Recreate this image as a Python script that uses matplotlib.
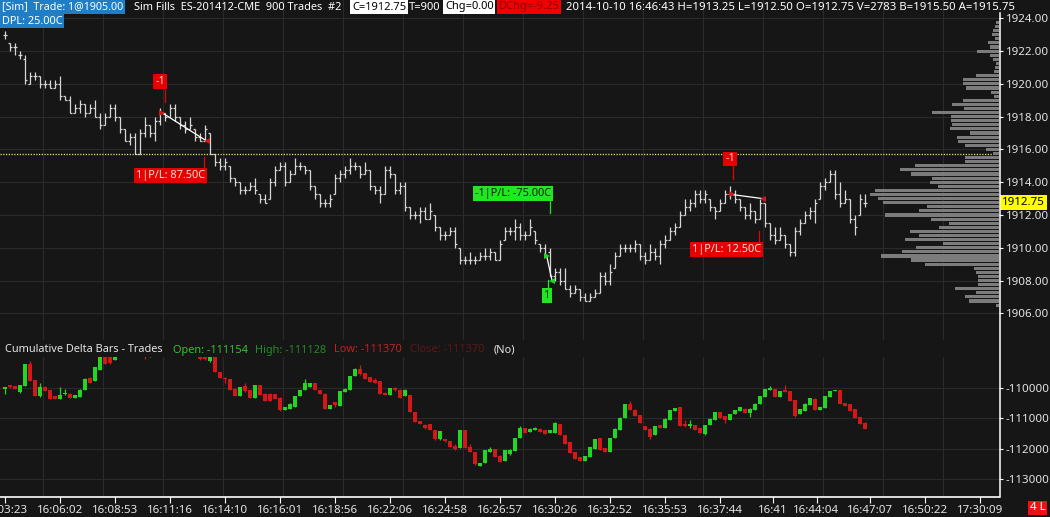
import numpy as np
import matplotlib
matplotlib.use("Agg")
import matplotlib.pyplot as plt
from matplotlib.lines import Line2D

# ---------------- DATA ----------------
price_open = [
 1923.0,1922.5,1922.25,1921.75,1921.5,1920.0,1920.5,1920.5,1920.0,1920.0,
 1919.75,1920.0,1919.25,1919.0,1918.25,1918.5,1918.75,1918.25,1918.5,1918.0,
 1917.5,1918.0,1918.5,1918.0,1917.25,1916.5,1916.75,1915.75,1917.0,1917.5,
 1917.0,1917.75,1918.25,1918.0,1918.5,1918.0,1917.5,1917.25,1917.25,1916.75,
 1916.5,1917.0,1915.75,1915.25,1915.0,1915.0,1914.25,1914.0,1913.5,1913.5,
 1913.75,1913.25,1913.0,1913.0,1914.0,1914.75,1915.0,1914.0,1914.5,1915.0,
 1915.0,1914.75,1913.75,1913.25,1912.75,1912.75,1913.25,1914.25,1914.5,1914.75,
 1915.0,1915.0,1914.5,1914.75,1913.75,1913.5,1913.25,1914.75,1914.5,1913.5,
 1913.75,1912.5,1912.0,1912.0,1912.25,1911.75,1912.0,1911.25,1910.75,1910.75,
 1911.0,1910.0,1909.25,1909.25,1909.25,1909.25,1909.5,1909.5,1909.75,1909.25,
 1910.5,1911.0,1911.0,1911.25,1910.75,1910.75,1911.0,1910.25,1910.0,1909.75,
 1908.25,1908.5,1908.0,1907.5,1907.25,1907.5,1907.0,1906.75,1907.0,1907.25,
 1908.25,1908.0,1908.75,1909.5,1910.0,1910.0,1910.0,1910.25,1909.5,1909.25,
 1909.75,1909.5,1910.25,1910.5,1911.0,1911.25,1912.0,1912.5,1912.75,1913.25,
 1913.0,1913.0,1912.5,1912.25,1912.75,1913.25,1913.25,1913.0,1912.5,1912.0,
 1912.25,1911.75,1912.75,1911.5,1910.75,1910.5,1910.75,1910.25,1909.75,1911.0,
 1911.5,1912.0,1912.25,1913.0,1913.75,1914.0,1914.5,1913.25,1912.75,1913.0,
 1911.75,1912.0,1912.75]
price_high = [
 1923.25,1922.5,1922.5,1922.0,1921.75,1920.75,1920.75,1920.5,1920.25,1920.25,
 1920.25,1920.5,1919.25,1919.25,1918.75,1919.0,1918.75,1918.75,1919.0,1918.25,
 1918.25,1918.75,1918.75,1918.0,1917.25,1917.0,1917.0,1917.25,1918.0,1917.5,
 1918.0,1918.5,1918.25,1918.75,1918.75,1918.0,1917.75,1918.0,1917.25,1917.0,
 1917.5,1917.0,1915.75,1915.5,1915.5,1915.0,1914.25,1914.0,1913.75,1914.0,
 1914.25,1913.25,1913.25,1914.25,1915.0,1915.25,1915.25,1914.75,1915.5,1915.25,
 1915.0,1914.75,1913.75,1913.25,1913.0,1913.25,1914.5,1914.75,1915.0,1915.5,
 1915.25,1915.0,1915.25,1914.75,1913.75,1913.75,1915.0,1915.0,1914.5,1914.0,
 1914.0,1912.5,1912.25,1912.5,1912.5,1912.75,1912.0,1911.25,1911.0,1911.25,
 1911.25,1910.0,1909.5,1909.75,1909.5,1909.75,1910.0,1910.0,1909.75,1910.5,
 1911.25,1911.25,1911.75,1911.5,1911.0,1911.75,1911.0,1910.25,1910.25,1910.0,
 1908.75,1908.75,1908.75,1907.75,1907.75,1907.5,1907.25,1907.25,1907.5,1908.5,
 1908.5,1909.0,1909.75,1910.25,1910.25,1910.25,1910.5,1910.25,1909.75,1910.25,
 1910.0,1910.5,1910.75,1911.25,1911.5,1912.25,1913.0,1913.0,1913.5,1913.5,
 1913.5,1913.0,1912.5,1913.0,1913.5,1913.75,1913.5,1913.0,1912.5,1912.75,
 1912.25,1913.0,1912.75,1911.5,1911.25,1911.25,1910.75,1910.25,1911.25,1911.75,
 1912.25,1912.5,1913.0,1914.0,1914.25,1914.75,1914.75,1914.0,1913.5,1913.0,
 1912.0,1913.25,1913.25]
price_low = [
 1922.75,1922.0,1921.75,1921.5,1920.0,1920.0,1920.25,1919.75,1919.75,1919.75,
 1919.75,1919.0,1919.0,1918.25,1918.25,1918.25,1918.0,1918.25,1918.0,1917.25,
 1917.5,1918.0,1917.75,1917.0,1916.5,1916.25,1915.75,1915.75,1916.75,1916.75,
 1916.5,1917.5,1917.75,1918.0,1917.75,1917.25,1917.0,1917.25,1916.5,1916.5,
 1916.5,1915.75,1915.0,1914.75,1914.75,1914.0,1913.75,1913.25,1913.25,1913.5,
 1913.25,1912.75,1912.75,1913.0,1913.75,1914.75,1913.75,1914.0,1914.5,1914.75,
 1914.5,1913.5,1913.0,1912.5,1912.5,1912.5,1913.25,1914.0,1914.25,1914.5,
 1914.75,1914.25,1914.5,1913.5,1913.25,1912.75,1913.25,1914.25,1913.25,1913.25,
 1912.25,1911.75,1911.75,1911.5,1911.75,1911.75,1911.0,1910.5,1910.5,1910.75,
 1910.0,1909.0,1909.0,1909.0,1909.0,1909.25,1909.25,1909.25,1909.25,1909.25,
 1910.5,1910.75,1910.5,1910.5,1910.5,1910.75,1910.25,1909.75,1909.5,1908.25,
 1908.0,1907.75,1907.5,1907.0,1907.25,1906.75,1906.75,1906.75,1907.0,1907.25,
 1907.75,1907.75,1908.75,1909.5,1909.75,1909.75,1909.75,1909.25,1909.0,1909.25,
 1909.25,1909.0,1910.0,1910.5,1910.75,1911.25,1912.0,1912.25,1912.5,1912.75,
 1912.75,1912.25,1911.75,1912.25,1912.75,1913.0,1912.75,1912.25,1911.75,1911.75,
 1911.5,1911.75,1911.25,1910.5,1910.25,1910.5,1910.0,1909.5,1909.5,1910.75,
 1911.5,1911.75,1911.5,1913.0,1913.5,1914.0,1913.0,1912.5,1912.75,1911.5,
 1910.75,1912.0,1912.5]
price_close = [
 1923.0,1922.25,1922.25,1921.75,1920.25,1920.5,1920.5,1920.0,1920.0,1919.75,
 1920.0,1919.25,1919.0,1918.25,1918.5,1918.75,1918.25,1918.5,1918.0,1917.5,
 1918.0,1918.5,1918.0,1917.25,1916.5,1916.75,1915.75,1917.0,1917.5,1917.0,
 1917.75,1918.25,1918.0,1918.5,1918.0,1917.5,1917.25,1917.5,1916.75,1916.5,
 1917.25,1915.75,1915.25,1915.0,1915.25,1914.25,1914.0,1913.5,1913.5,1913.75,
 1913.5,1913.0,1912.75,1914.0,1914.75,1915.0,1914.0,1914.5,1915.0,1915.0,
 1914.75,1913.75,1913.25,1912.75,1912.75,1913.0,1914.25,1914.5,1914.75,1915.0,
 1915.0,1914.5,1914.75,1913.75,1913.5,1913.25,1914.75,1914.5,1913.5,1913.75,
 1912.5,1912.0,1912.0,1912.25,1911.75,1912.25,1911.25,1910.75,1910.75,1911.0,
 1910.25,1909.25,1909.25,1909.25,1909.25,1909.5,1909.5,1909.75,1909.25,1910.25,
 1911.0,1911.0,1911.25,1910.75,1910.75,1911.25,1910.5,1910.0,1909.5,1908.25,
 1908.5,1908.0,1907.5,1907.25,1907.5,1907.0,1906.75,1907.0,1907.25,1908.25,
 1908.0,1908.5,1909.5,1910.0,1910.0,1910.0,1910.25,1909.5,1909.25,1909.75,
 1909.5,1910.25,1910.5,1911.0,1911.25,1912.0,1912.5,1912.75,1913.25,1913.0,
 1913.25,1912.5,1912.25,1912.75,1913.25,1913.25,1913.0,1912.5,1912.0,1912.25,
 1911.75,1912.75,1911.5,1910.75,1910.5,1910.75,1910.25,1909.75,1911.0,1911.5,
 1912.0,1912.25,1912.75,1913.75,1914.0,1914.5,1913.25,1912.75,1913.0,1911.75,
 1911.25,1913.0,1912.75]

delta_open = [
 -110050,-109920,-109950,-110140,-109930,-109225,-109750,-110270,-109975,-110080,
 -110285,-110360,-110215,-110195,-110325,-110305,-110060,-109675,-109775,-109420,
 -108900,-108950,-109090,-108960,-108750,-108600,-108650,-108450,-108550,-108950,
 -108750,-108550,-108600,-108500,-108550,-108750,-108650,-108700,-108850,-108950,
 -109000,-109130,-108950,-109475,-109675,-109730,-110030,-110270,-109950,-110080,
 -110335,-109915,-110195,-110195,-110215,-110325,-110720,-110690,-110635,-110280,
 -110060,-109975,-109840,-110080,-110195,-110690,-110470,-110600,-110140,-110080,
 -109620,-109370,-109530,-109640,-109750,-109775,-110160,-110250,-110025,-110060,
 -110280,-110250,-110800,-111095,-111240,-111185,-111380,-111700,-111700,-111765,
 -111930,-111975,-111380,-111955,-112120,-112560,-112480,-112120,-112010,-112230,
 -112395,-112195,-112085,-111645,-111325,-111455,-111380,-111345,-111400,-111490,
 -111490,-111200,-111565,-111785,-112120,-112285,-112415,-112285,-112010,-111645,
 -111975,-112120,-111645,-111380,-110985,-110520,-110720,-110905,-111270,-111345,
 -111565,-111235,-111315,-111050,-110760,-110650,-111225,-111250,-111235,-111315,
 -111535,-111235,-111050,-110795,-110940,-111070,-110870,-110760,-110685,-110830,
 -110740,-110540,-110300,-110080,-110045,-110300,-110080,-110110,-110410,-110870,
 -110760,-110575,-110385,-110740,-110660,-110300,-110110,-110078,-110495,-110550,
 -110715,-110960,-111154]
delta_high = [
 -109970,-109900,-109940,-109910,-109220,-109115,-109740,-109860,-109960,-110070,
 -110280,-109975,-110030,-110190,-110245,-110050,-109690,-109660,-109330,-108950,
 -108850,-108900,-108900,-108700,-108550,-108450,-108400,-108350,-108500,-108700,
 -108500,-108420,-108450,-108380,-108500,-108600,-108550,-108650,-108750,-108930,
 -108980,-108950,-108900,-109470,-109640,-109725,-110020,-109965,-109860,-110075,
 -109910,-109905,-110190,-110185,-110200,-110315,-110630,-110515,-110275,-110075,
 -109730,-109835,-109830,-110075,-110190,-110575,-110465,-110100,-110025,-109615,
 -109365,-109257,-109525,-109635,-109695,-109770,-110155,-110000,-109990,-110055,
 -110030,-110245,-110795,-111090,-111185,-111180,-111375,-111420,-111695,-111760,
 -111845,-111375,-111375,-111845,-112115,-112465,-112060,-111955,-112005,-112220,
 -112060,-112000,-111640,-111250,-111320,-111340,-111300,-111320,-111395,-111395,
 -111125,-111195,-111560,-111780,-112115,-112280,-112255,-111950,-111675,-111640,
 -111970,-111640,-111340,-110980,-110535,-110440,-110715,-110900,-111265,-111340,
 -111265,-111230,-111010,-110735,-110670,-110620,-111070,-111070,-111230,-111310,
 -111230,-111010,-110790,-110790,-110935,-110865,-110735,-110625,-110680,-110680,
 -110515,-110260,-110050,-109945,-110040,-110095,-109910,-110105,-110405,-110700,
 -110515,-110350,-110335,-110625,-110260,-110095,-110073,-110073,-110490,-110545,
 -110710,-110955,-111128]
delta_low = [
 -110195,-110000,-110040,-110170,-109940,-109780,-110280,-110300,-110110,-110370,
 -110365,-110365,-110250,-110330,-110330,-110310,-110065,-109845,-109780,-109425,
 -109230,-109210,-109100,-108970,-108780,-108700,-108680,-108600,-109060,-108980,
 -108770,-108650,-108700,-108600,-108800,-108850,-108750,-108900,-108950,-109080,
 -109100,-109140,-109480,-109670,-109860,-110065,-110280,-110275,-110135,-110330,
 -110340,-110255,-110440,-110440,-110365,-110755,-110725,-110695,-110640,-110285,
 -110080,-109980,-110085,-110220,-110695,-110695,-110635,-110605,-110145,-110085,
 -109625,-109570,-109705,-109810,-109845,-110220,-110255,-110255,-110100,-110330,
 -110285,-110805,-111135,-111210,-111350,-111385,-111705,-111705,-111770,-111960,
 -112065,-111980,-111980,-112125,-112530,-112580,-112485,-112125,-112290,-112460,
 -112400,-112200,-112090,-111650,-111495,-111460,-111385,-111460,-111515,-111495,
 -111495,-111570,-111845,-112155,-112345,-112400,-112420,-112290,-112015,-112045,
 -112125,-112125,-111650,-111385,-110990,-110745,-110945,-111165,-111385,-111700,
 -111570,-111320,-111320,-111055,-110765,-111275,-111290,-111310,-111385,-111495,
 -111540,-111240,-111055,-110990,-111160,-111075,-110875,-110765,-110835,-110960,
 -110745,-110545,-110305,-110085,-110305,-110305,-110140,-110435,-110980,-110875,
 -110765,-110580,-110745,-110745,-110665,-110305,-110115,-110525,-110610,-110765,
 -110990,-111185,-111370]
delta_close = [
 -109975,-109990,-110030,-109920,-109225,-109775,-110270,-109975,-110105,-110360,
 -110360,-110250,-110175,-110325,-110250,-110060,-109700,-109840,-109335,-108900,
 -109225,-109200,-109000,-108750,-108600,-108650,-108450,-108550,-108950,-108750,
 -108550,-108600,-108500,-108550,-108750,-108650,-108700,-108850,-108800,-109050,
 -109070,-109000,-109475,-109665,-109730,-110060,-110270,-109975,-110105,-110325,
 -109915,-110250,-110435,-110435,-110360,-110745,-110635,-110525,-110280,-110080,
 -109840,-109840,-110080,-110215,-110690,-110580,-110580,-110105,-110030,-109620,
 -109370,-109565,-109700,-109805,-109840,-110215,-110250,-110005,-110080,-110325,
 -110080,-110800,-111130,-111205,-111315,-111380,-111700,-111425,-111765,-111955,
 -112010,-111380,-111975,-112120,-112525,-112470,-112065,-112010,-112285,-112450,
 -112065,-112040,-111645,-111315,-111490,-111345,-111345,-111455,-111510,-111400,
 -111160,-111565,-111840,-112150,-112340,-112395,-112260,-111955,-111680,-112040,
 -112120,-111645,-111345,-110985,-110540,-110740,-110940,-111160,-111380,-111620,
 -111270,-111315,-111015,-110740,-110675,-111270,-111250,-111225,-111380,-111490,
 -111235,-111015,-110795,-110985,-111070,-110870,-110740,-110630,-110830,-110685,
 -110520,-110265,-110055,-110000,-110300,-110100,-110135,-110430,-110940,-110705,
 -110520,-110355,-110740,-110630,-110265,-110100,-110078,-110520,-110605,-110760,
 -110985,-111180,-111370]

profile_levels = np.arange(1923.75, 1906.4, -0.25)
profile_volume = [
 27,43,60,70,37,110,93,217,93,60,27,43,50,227,360,360,327,77,50,360,
 470,350,667,477,477,467,487,293,417,410,343,127,60,
 337,343,843,993,883,670,693,610,1237,1293,1210,1160,717,800,1143,677,503,603,
 893,803,937,560,827,970,1177,883,737,253,227,210,210,210,443,227,337,300,27]

time_labels = ["16:03:23","16:06:02","16:08:53","16:11:16","16:14:10","16:16:01",
               "16:18:56","16:22:06","16:24:58","16:26:57","16:30:26","16:32:52",
               "16:35:53","16:37:44","16:41","16:44:04","16:47:07","16:50:22","17:30:09"]
time_label_bar = [0, 11, 22, 33, 44, 55, 66, 77, 88, 99, 110, 121, 132, 143, 153.5, 162.3, 173, 184, 195]

price_ticks = [1906, 1908, 1910, 1912, 1914, 1916, 1918, 1920, 1922, 1924]
delta_ticks = [-110000, -111000, -112000, -113000]
last_price = 1912.75
ref_line_price = 1915.75

trade_entry_bar = [31.35, 108.34, 145.34]
trade_entry_price = [1918.25, 1909.5, 1913.25]
trade_exit_bar = [40.4, 109.4, 151.54]
trade_exit_price = [1916.5, 1908.0, 1913.0]
trade_entry_qty = ["-1", "1", "-1"]
trade_exit_label = ["1|P/L: 87.50C", "-1|P/L: -75.00C", "1|P/L: 12.50C"]

# ---------------- STYLE ----------------
FONT = ["Noto Sans", "DejaVu Sans"]
plt.rcParams['font.family'] = FONT
plt.rcParams['axes.unicode_minus'] = False
BG = '#161616'
GRID = '#2a2a2a'
BAR = '#d6d6d6'
GREEN = '#22d622'
RED = '#d41818'
TXT = '#e4e4e4'
W, H = 1050, 517
PXX = 1 / 5.0      # bar units per pixel
PXY = 1 / 16.39    # price points per pixel

fig = plt.figure(figsize=(W / 100, H / 100), dpi=100, facecolor=BG)
axp = fig.add_axes([0, 1 - 340 / H, 999 / W, 340 / H])
axd = fig.add_axes([0, 1 - 497 / H, 999 / W, (497 - 357) / H])
for a in (axp, axd):
    a.set_facecolor(BG)
    for s in a.spines.values():
        s.set_visible(False)
    a.set_xlim(-1, 198.8)

axp.set_ylim(1904.372, 1925.117)
axd.set_ylim(-113595, -108990)

gx = np.arange(7.6, 190, 12)
for a in (axp, axd):
    for x in gx:
        a.axvline(x, color=GRID, lw=0.8, zorder=0)
for p in price_ticks:
    axp.axhline(p, color=GRID, lw=0.8, zorder=0)
for d in delta_ticks:
    axd.axhline(d, color=GRID, lw=0.8, zorder=0)

# price OHLC bars
idx = np.arange(len(price_close))
axp.vlines(idx, price_low, price_high, colors=BAR, lw=0.9, zorder=3)
axp.hlines(price_open, idx - 0.45, idx, colors=BAR, lw=0.9, zorder=3)
axp.hlines(price_close, idx, idx + 0.45, colors=BAR, lw=0.9, zorder=3)

# reference dotted line
axp.plot([-1, 197.5], [ref_line_price] * 2, color='#e6e67a', lw=0.9,
         ls=(0, (1, 1.2)), zorder=2)

# volume profile (twin x axis growing from the right edge)
axv = axp.twiny()
axv.set_xlim(9990, 0)
axv.barh(profile_levels, profile_volume, height=0.19, left=0, color='#7c7c7c', zorder=1)
axv.axis('off')

# trades
for k in range(len(trade_entry_bar)):
    col = RED if trade_entry_qty[k].startswith('-') else GREEN
    ex, ey = trade_entry_bar[k], trade_entry_price[k]
    xx, xy = trade_exit_bar[k], trade_exit_price[k]
    axp.plot([ex, xx], [ey, xy], color='white', lw=0.9, zorder=4)
    axp.plot(ex, ey, marker='>', color=col, ms=5, mew=0, zorder=5)
    axp.plot(xx, xy, marker='<', color=col, ms=5, mew=0, zorder=5)

def box_label(x, y, s, fc, tc, ha):
    axp.text(x, y, s, color=tc, fontsize=7.9, ha=ha, va='center', zorder=6,
             bbox=dict(boxstyle='square,pad=0.18', fc=fc, ec='none'))

def connector(x, y, dx, dy1, dy2, col):
    axp.plot([x + dx * PXX] * 2, [y + dy1 * PXY, y + dy2 * PXY], color=col, lw=0.9, zorder=4)

BRED, BGRN = '#e60000', '#22e622'
# trade 1 (sell entry)
e_x, e_y, x_x, x_y = trade_entry_bar[0], trade_entry_price[0], trade_exit_bar[0], trade_exit_price[0]
box_label(e_x - 1.7 * PXX, e_y + 31.5 * PXY, trade_entry_qty[0], BRED, '#ffe0e0', 'center')
connector(e_x, e_y, 2.8, 10.5, 23, BRED)
box_label(x_x - 1.5 * PXX, x_y - 34.3 * PXY, trade_exit_label[0], BRED, '#ffe0e0', 'right')
connector(x_x, x_y, -3, -16, -28, BRED)
# trade 2 (buy entry)
e_x, e_y, x_x, x_y = trade_entry_bar[1], trade_entry_price[1], trade_exit_bar[1], trade_exit_price[1]
box_label(e_x + 0.3 * PXX, e_y - 39.3 * PXY, trade_entry_qty[1], BGRN, '#0a200a', 'center')
connector(e_x, e_y, 1.3, -24.3, -33.3, BGRN)
box_label(x_x - 1.0 * PXX, x_y + 87 * PXY, trade_exit_label[1], BGRN, '#0a200a', 'right')
connector(x_x, x_y, -2.5, 68, 81, BGRN)
# trade 3 (sell entry)
e_x, e_y, x_x, x_y = trade_entry_bar[2], trade_entry_price[2], trade_exit_bar[2], trade_exit_price[2]
box_label(e_x - 1.7 * PXX, e_y + 35.5 * PXY, trade_entry_qty[2], BRED, '#ffe0e0', 'center')
connector(e_x, e_y, 1.3, 15.5, 29.5, BRED)
box_label(x_x - 1.7 * PXX, x_y - 50.9 * PXY, trade_exit_label[2], BRED, '#ffe0e0', 'right')
connector(x_x, x_y, -3.7, -32.4, -44.4, BRED)

# delta candles
didx = np.arange(len(delta_close))
dcol = [GREEN if c >= o else RED for o, c in zip(delta_open, delta_close)]
axd.vlines(didx, delta_low, delta_high, colors=dcol, lw=0.9, zorder=3)
bot = np.minimum(delta_open, delta_close)
hgt = np.maximum(np.abs(np.array(delta_close) - np.array(delta_open)), 40)
axd.bar(didx, hgt, bottom=bot, width=0.64, color=dcol, zorder=4, linewidth=0)

# axes ticks
axp.tick_params(axis='x', bottom=False, labelbottom=False)
axp.yaxis.tick_right()
axp.set_yticks(price_ticks)
axp.set_yticklabels([f"{p:.2f}" for p in price_ticks])
axp.tick_params(axis='y', colors='white', labelcolor=TXT, labelsize=8.3, length=3,
                width=0.8, pad=2)
axd.yaxis.tick_right()
axd.set_yticks(delta_ticks)
axd.set_yticklabels([str(d) for d in delta_ticks])
axd.tick_params(axis='y', colors='white', labelcolor=TXT, labelsize=8.3, length=3,
                width=0.8, pad=2)
axd.set_xticks(time_label_bar)
axd.set_xticklabels(time_labels)
axd.tick_params(axis='x', colors='white', labelcolor=TXT, labelsize=8.3, length=4,
                width=0.8, pad=1.5)
axd.spines['bottom'].set_visible(True)
axd.spines['bottom'].set_color('white')
axd.spines['bottom'].set_linewidth(1.2)

# right axis line over both panels
fig.add_artist(Line2D([999.5 / W] * 2, [1 - 497 / H, 1 - 13 / H], color='white', lw=1.1))

# last price box
axp.text(1.003, last_price, f"{last_price:.2f}", transform=axp.get_yaxis_transform(),
         color='black', fontsize=8.3, ha='left', va='center', zorder=10, clip_on=False,
         bbox=dict(boxstyle='square,pad=0.15', fc='#ffff00', ec='none'))

def ftext(xpx, ypx, s, color, bg=None, size=8.3):
    kw = dict(color=color, fontsize=size, ha='left', va='center')
    if bg is not None:
        kw['bbox'] = dict(boxstyle='square,pad=0.15', fc=bg, ec='none')
    fig.text(xpx / W, 1 - ypx / H, s, **kw)

# header
ftext(2, 7, "[Sim]  Trade: 1@1905.00", 'white', '#1f7ec6', size=7.7)
ftext(134, 7, "Sim Fills  ES-201412-CME  900 Trades  #2", 'white', size=7.9)
ftext(352, 7, "C=1912.75", 'black', 'white', size=8.0)
ftext(409, 7, "T=900", 'white', size=8.0)
ftext(445, 7, "Chg=0.00", 'black', 'white', size=8.0)
ftext(499, 7, "DChg=-9.25", '#8a0000', '#f00000', size=8.0)
ftext(566, 7, "2014-10-10 16:46:43 H=1913.25 L=1912.50 O=1912.75 V=2783 B=1915.50 A=1915.75", 'white', size=8.2)
ftext(2, 21, "DPL: 25.00C", 'white', '#1f7ec6', size=7.9)

# delta title
ftext(5, 350, "Cumulative Delta Bars - Trades", TXT, size=7.9)
ftext(173, 350, "Open: -111154", '#2fc42f', size=7.9)
ftext(255, 350, "High: -111128", '#238a23', size=7.9)
ftext(334, 350, "Low: -111370", '#c81e1e', size=7.9)
ftext(410, 350, "Close: -111370", '#5e1616', size=7.9)
ftext(494, 350, "(No)", TXT, size=7.9)

# bottom-right badge
ftext(1030, 508, "4 L", 'white', '#ee1111')

fig.savefig("out.png", dpi=100, facecolor=BG)
